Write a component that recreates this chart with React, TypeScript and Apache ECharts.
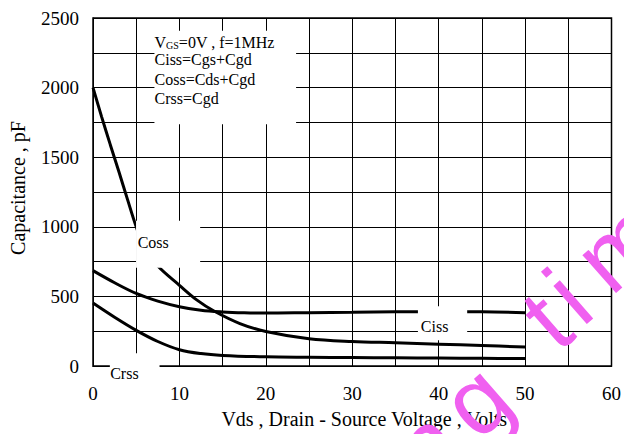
import React, { useEffect, useRef } from "react";
import * as echarts from "echarts";

// Tick labels shown on the axes (grid lines are drawn every half step)
const xTickLabels = [0, 10, 20, 30, 40, 50, 60];
const yTickLabels = [0, 500, 1000, 1500, 2000, 2500];

// Capacitance vs drain-source voltage, pF
const cossVds = [0, 1, 2, 3, 4, 5, 6, 7.5, 10, 12, 14, 17, 20, 25, 30, 35, 40, 45, 50];
const cossPf = [2000, 1790, 1590, 1395, 1195, 1000, 845, 718, 580, 475, 395, 305, 248, 196, 176, 167, 157, 147, 137];

const cissVds = [0, 2.5, 5, 7.5, 10, 12.5, 15, 17.5, 20, 25, 30, 35, 40, 45, 50];
const cissPf = [685, 598, 521, 466, 426, 400, 388, 382, 380, 383, 386, 389, 390, 389, 383];

const crssVds = [0, 2.5, 5, 7.5, 10, 12.5, 15, 20, 25, 30, 35, 40, 45, 50];
const crssPf = [452, 350, 256, 176, 117, 89, 76, 66, 63, 61, 59, 57, 55, 53];

// Test-condition notes
const conditionHead = "{v|V}{s|GS}{v|=0V , f=1MHz}";
const conditionLines = ["Ciss=Cgs+Cgd", "Coss=Cds+Cgd", "Crss=Cgd"];

const SERIF = "Liberation Serif, Times New Roman, serif";
const SANS = "Liberation Sans, Arial, sans-serif";

// Curve labels, each on a white patch, placed in axis units
const curveLabels = [
  { text: "Coss", from: [4.98, 1044], to: [12.4, 705], at: [5.17, 888] },
  { text: "Ciss", from: [37.6, 430], to: [43.3, 185], at: [37.94, 284] },
  { text: "Crss", from: [1.95, 92], to: [7.7, -100], at: [1.99, -53] },
];
const notePatch = { from: [7.11, 2408], to: [23.5, 1736] };
const noteLeft = 7.12;
const noteRows = [2341, 2199, 2061, 1923];

// Watermark glyphs running diagonally across the lower right corner
const watermarkGlyphs = [
  { ch: "n", x: 426, y: 446 },
  { ch: "g", x: 476, y: 400 },
  { ch: "t", x: 546, y: 320 },
  { ch: "i", x: 568, y: 296 },
  { ch: "m", x: 619, y: 246 },
  { ch: "e", x: 672, y: 202 },
];

const pairs = (xs: number[], ys: number[]) => xs.map((x, i) => [x, ys[i]]);

const curve = (name: string, data: number[][]) => ({
  name,
  type: "line",
  data,
  showSymbol: false,
  symbol: "none",
  smooth: 0.35,
  z: 3,
  lineStyle: { color: "#000", width: 3 },
});

export default function App() {
  const ref = useRef<HTMLDivElement>(null);

  useEffect(() => {
    document.body.style.margin = "0";
    const chart = echarts.init(ref.current!, null, { renderer: "svg" });

    chart.setOption({
      animation: false,
      backgroundColor: "#fff",
      textStyle: { fontFamily: SERIF },
      grid: {
        left: 90,
        right: 11.5,
        top: 18,
        bottom: 64,
        show: true,
        borderColor: "#000",
        borderWidth: 1.5,
      },
      xAxis: {
        type: "value",
        min: 0,
        max: 60,
        interval: 5,
        axisLine: { show: true, lineStyle: { color: "#000", width: 1 } },
        axisTick: { show: false },
        splitLine: { show: true, lineStyle: { color: "#000", width: 1 } },
        axisLabel: {
          margin: 18,
          color: "#000",
          fontSize: 19,
          fontFamily: SERIF,
          formatter: (v: number) => (xTickLabels.includes(v) ? String(v) : ""),
        },
        name: "Vds , Drain - Source Voltage , Volts",
        nameLocation: "middle",
        nameGap: 43,
        nameTextStyle: { color: "#000", fontSize: 20, fontFamily: SERIF, padding: [0, 0, 0, 24] },
      },
      yAxis: {
        type: "value",
        min: 0,
        max: 2500,
        interval: 250,
        axisLine: { show: true, lineStyle: { color: "#000", width: 1 } },
        axisTick: { show: false },
        splitLine: { show: true, lineStyle: { color: "#000", width: 1 } },
        axisLabel: {
          margin: 14,
          color: "#000",
          fontSize: 19,
          fontFamily: SERIF,
          formatter: (v: number) => (yTickLabels.includes(v) ? String(v) : ""),
        },
        name: "Capacitance , pF",
        nameLocation: "middle",
        nameGap: 65,
        nameTextStyle: { color: "#000", fontSize: 20, fontFamily: SERIF, padding: [0, 0, 0, 8] },
      },
      series: [
        curve("Coss", pairs(cossVds, cossPf)),
        curve("Ciss", pairs(cissVds, cissPf)),
        curve("Crss", pairs(crssVds, crssPf)),
      ],
    });

    const px = (p: number[]) => chart.convertToPixel({ gridIndex: 0 }, p) as number[];
    const patch = (from: number[], to: number[]) => {
      const a = px(from);
      const b = px(to);
      return {
        type: "rect",
        z: 100,
        shape: { x: a[0], y: a[1], width: b[0] - a[0], height: b[1] - a[1] },
        style: { fill: "#fff" },
        silent: true,
      };
    };
    const label = (text: string, at: number[]) => {
      const p = px(at);
      return {
        type: "text",
        z: 101,
        x: p[0],
        y: p[1],
        style: {
          text,
          fill: "#000",
          fontSize: 16,
          fontFamily: SERIF,
          align: "left",
          verticalAlign: "middle",
        },
      };
    };

    const elements: any[] = [];
    elements.push(patch(notePatch.from, notePatch.to));
    curveLabels.forEach((c) => {
      elements.push(patch(c.from, c.to));
      elements.push(label(c.text, c.at));
    });

    const head = px([noteLeft, noteRows[0]]);
    elements.push({
      type: "text",
      z: 101,
      x: head[0],
      y: head[1],
      style: {
        text: conditionHead,
        fill: "#000",
        align: "left",
        verticalAlign: "middle",
        rich: {
          v: { fontSize: 16, fontFamily: SERIF, lineHeight: 20, verticalAlign: "bottom", fill: "#000" },
          s: { fontSize: 10, fontFamily: SERIF, lineHeight: 16, verticalAlign: "bottom", fill: "#000" },
        },
      },
    });
    conditionLines.forEach((t, i) => {
      elements.push(label(t, [noteLeft, noteRows[i + 1]]));
    });

    watermarkGlyphs.forEach((g) => {
      elements.push({
        type: "text",
        z: 120,
        x: g.x,
        y: g.y,
        rotation: 0.72,
        silent: true,
        style: {
          text: g.ch,
          fill: "#f060f0",
          fontSize: 96,
          fontFamily: SANS,
          align: "center",
          verticalAlign: "middle",
        },
      });
    });

    chart.setOption({ graphic: { elements } });

    return () => chart.dispose();
  }, []);

  return <div ref={ref} style={{ width: 624, height: 434 }} />;
}
